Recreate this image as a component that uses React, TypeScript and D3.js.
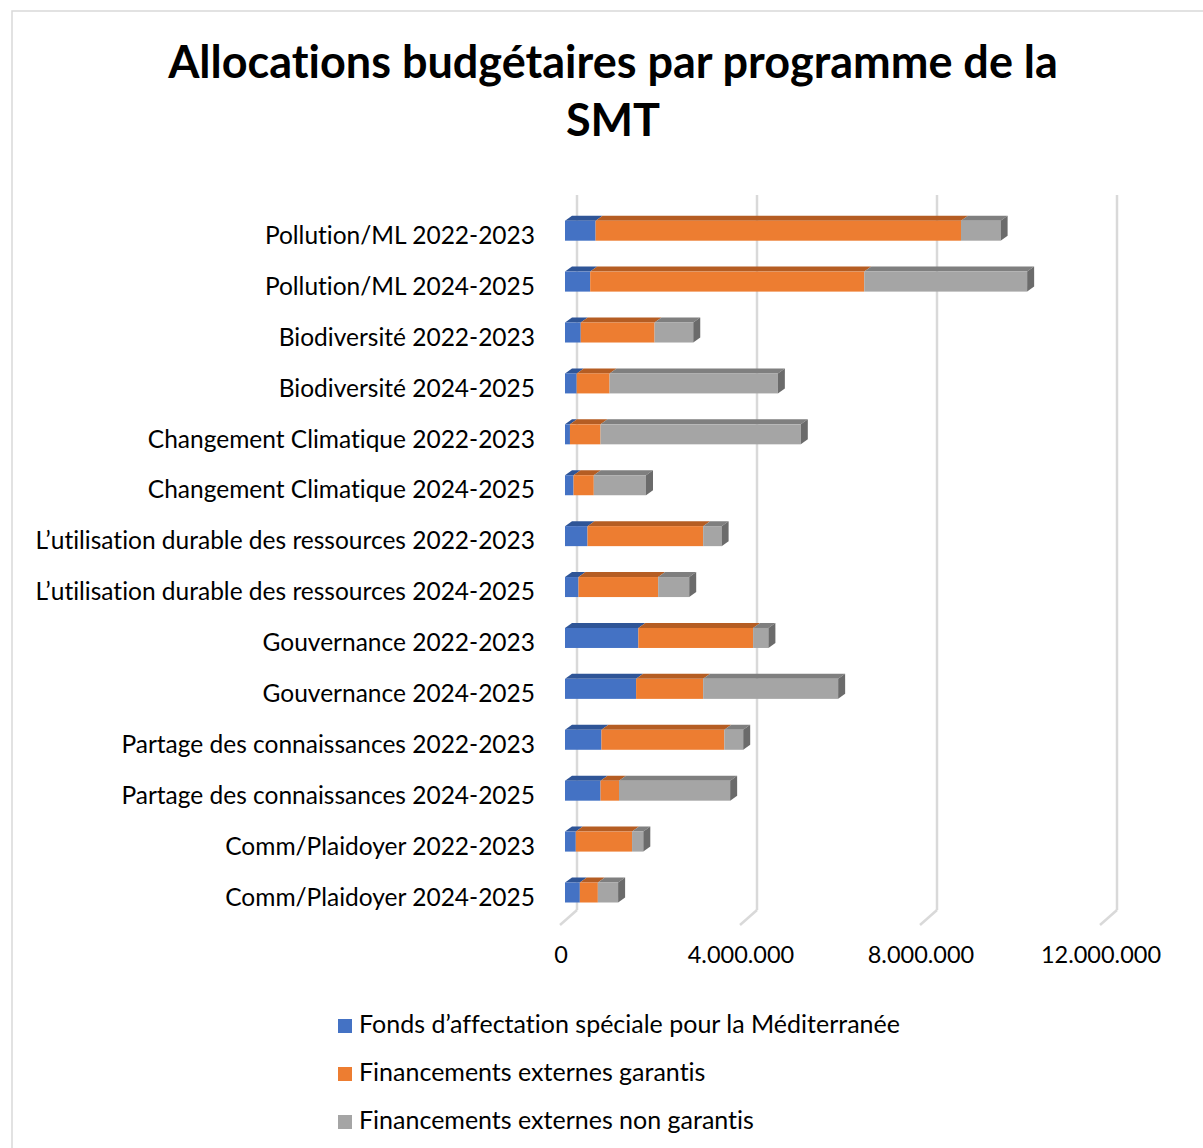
import React from 'react'
import * as d3 from 'd3'

// chart values (in units)
const categories = [
  'Pollution/ML 2022-2023',
  'Pollution/ML 2024-2025',
  'Biodiversité 2022-2023',
  'Biodiversité 2024-2025',
  'Changement Climatique 2022-2023',
  'Changement Climatique 2024-2025',
  'L’utilisation durable des ressources 2022-2023',
  'L’utilisation durable des ressources 2024-2025',
  'Gouvernance 2022-2023',
  'Gouvernance 2024-2025',
  'Partage des connaissances 2022-2023',
  'Partage des connaissances 2024-2025',
  'Comm/Plaidoyer 2022-2023',
  'Comm/Plaidoyer 2024-2025'
]
const fondsMed = [680000, 560000, 350000, 260000, 110000, 190000, 500000, 300000, 1630000, 1580000, 810000, 790000, 240000, 330000]
const externesGarantis = [8120000, 6090000, 1640000, 730000, 680000, 450000, 2570000, 1770000, 2550000, 1490000, 2730000, 410000, 1250000, 400000]
const externesNonGarantis = [880000, 3620000, 860000, 3740000, 4450000, 1160000, 410000, 690000, 340000, 3000000, 420000, 2470000, 250000, 450000]
const seriesNames = [
  'Fonds d’affectation spéciale pour la Méditerranée',
  'Financements externes garantis',
  'Financements externes non garantis'
]
const xTicks = [0, 4000000, 8000000, 12000000]

const colors = ['#4472C4', '#ED7D31', '#A5A5A5']
const topColors = ['#2F5597', '#B55D23', '#7F7F7F']
const sideColor = '#6B6B6B'

const FONT = 'Lato, "Open Sans", sans-serif'

export default function App () {
  const width = 1203
  const height = 1148
  const dx = 7 // bar depth offset
  const dy = 5
  const backDx = 12
  const barH = 20

  const x = d3.scaleLinear().domain([0, 12000000]).range([565, 1105])
  const y = d3.scalePoint<string>().domain(categories).range([220.7, 882.5])

  const rows = categories.map((c, i) => ({
    cat: c,
    s0: fondsMed[i],
    s1: externesGarantis[i],
    s2: externesNonGarantis[i]
  }))
  const stacked = d3.stack<any>().keys(['s0', 's1', 's2'])(rows)
  const fmt = (v: number) => d3.format(',')(v).replace(/,/g, '.')

  return (
    <svg width={width} height={height} style={{ position: 'absolute', left: 0, top: 0, background: '#fff', fontVariantLigatures: 'none' }}>
      <rect x={12} y={11} width={1250} height={1200} fill='#fff' stroke='#d9d9d9' strokeWidth={1.5} />
      <text x={613} y={78} textAnchor='middle' fontFamily={FONT} fontWeight='bold' fontSize={45}>
        Allocations budgétaires par programme de la
      </text>
      <text x={613} y={136} textAnchor='middle' fontFamily={FONT} fontWeight='bold' fontSize={45}>SMT</text>

      {/* back-wall gridlines and floor diagonals */}
      {xTicks.map(t => (
        <g key={t}>
          <line x1={x(t) + backDx} x2={x(t) + backDx} y1={195} y2={910} stroke='#d9d9d9' strokeWidth={2.5} />
          <line x1={x(t) + backDx} x2={x(t) - 5} y1={910} y2={925} stroke='#d9d9d9' strokeWidth={2.5} />
          <text x={x(t) - 4} y={957} textAnchor='middle' dominantBaseline='middle' fontFamily={FONT} fontSize={23.5} fill='#000'>
            {fmt(t)}
          </text>
        </g>
      ))}

      {/* bars */}
      {categories.map((c, i) => {
        const yTop = y(c) as number
        return (
          <g key={c}>
            {stacked.map((s, k) => {
              const x0 = x(s[i][0])
              const x1 = x(s[i][1])
              const w = x1 - x0
              return (
                <g key={k}>
                  <polygon
                    points={`${x0},${yTop} ${x0 + dx},${yTop - dy} ${x1 + dx},${yTop - dy} ${x1},${yTop}`}
                    fill={topColors[k]}
                  />
                  <rect x={x0} y={yTop} width={Math.max(w, 0)} height={barH} fill={colors[k]} />
                </g>
              )
            })}
            {(() => {
              const xe = x(stacked[2][i][1])
              return (
                <polygon
                  points={`${xe},${yTop} ${xe + dx},${yTop - dy} ${xe + dx},${yTop + barH - dy} ${xe},${yTop + barH}`}
                  fill={sideColor}
                />
              )
            })()}
            <text x={535} y={yTop + barH / 2 + 7} textAnchor='end' dominantBaseline='middle' fontFamily={FONT} fontSize={24.5} fill='#000'>
              {c}
            </text>
          </g>
        )
      })}

      {/* legend */}
      {seriesNames.map((n, k) => (
        <g key={n} transform={`translate(338, ${1026 + k * 48})`}>
          <rect x={0} y={-7} width={14} height={14} fill={colors[k]} />
          <text x={21} y={1} dominantBaseline='middle' fontFamily={FONT} fontSize={25} fill='#000'>{n}</text>
        </g>
      ))}
    </svg>
  )
}
